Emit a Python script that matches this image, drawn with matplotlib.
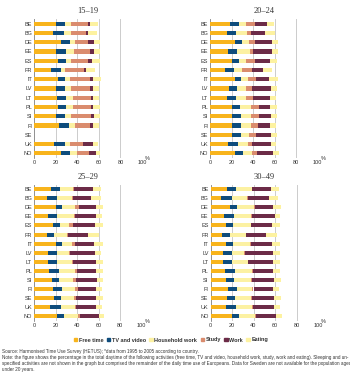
import matplotlib
matplotlib.use("Agg")
import matplotlib.pyplot as plt
import numpy as np

plt.rcParams["font.family"] = ["Liberation Sans", "DejaVu Sans"]

countries = ["BE", "BG", "DE", "EE", "ES", "FR", "IT", "LV", "LT", "PL", "SI", "FI", "SE", "UK", "NO"]
activities = ["Free time", "TV and video", "Household work", "Study", "Work", "Eating"]
colors = ["#F8B41C", "#0E4C7C", "#FCF1A2", "#DA8C6E", "#6C2B47", "#FDF2A0"]
panel_titles = ["15\u201319", "20\u201324", "25\u201329", "30\u201349"]

# values per country: free time, TV and video, household work, study, work, eating
age_15_19 = [
    [20.4, 8.6, 5.0, 16.0, 2.3, 7.1],
    [18.0, 10.0, 6.7, 13.0, 2.3, 8.5],
    [25.0, 8.0, 5.4, 11.6, 6.0, 5.3],
    [20.7, 9.0, 7.3, 14.4, 4.6, 5.0],
    [22.3, 7.4, 4.7, 15.6, 4.0, 7.3],
    [16.0, 8.8, 4.2, 17.0, 2.0, 8.3],
    [22.6, 6.4, 4.0, 18.4, 3.1, 7.1],
    [20.7, 8.3, 5.7, 16.7, 3.4, 5.2],
    [21.0, 8.7, 6.3, 17.0, 1.5, 5.5],
    [22.6, 7.1, 6.3, 17.0, 1.8, 5.9],
    [20.7, 7.8, 5.9, 18.6, 2.7, 5.0],
    [23.5, 8.5, 6.4, 13.3, 3.3, 4.8],
    [0, 0, 0, 0, 0, 0],
    [18.6, 10.4, 4.7, 11.5, 9.3, 4.3],
    [25.4, 8.3, 5.9, 10.9, 6.5, 4.3],
]
age_20_24 = [
    [18.3, 8.3, 7.1, 8.3, 11.0, 6.8],
    [15.8, 8.2, 10.7, 3.7, 12.4, 9.2],
    [23.0, 6.7, 6.5, 5.3, 16.1, 5.4],
    [16.4, 8.6, 12.5, 2.5, 17.6, 5.4],
    [20.0, 6.6, 6.8, 8.1, 13.9, 7.1],
    [14.2, 8.4, 6.8, 9.3, 10.5, 8.7],
    [23.5, 5.0, 6.5, 7.7, 12.3, 8.0],
    [17.6, 7.4, 8.7, 5.6, 17.4, 5.5],
    [15.5, 8.3, 9.9, 6.3, 15.7, 5.9],
    [20.4, 7.8, 10.2, 7.1, 10.5, 6.2],
    [20.7, 7.8, 9.3, 7.7, 10.8, 5.9],
    [20.4, 8.6, 9.4, 6.2, 11.1, 5.9],
    [20.7, 7.8, 7.7, 6.5, 13.6, 5.6],
    [16.7, 9.6, 9.0, 3.7, 17.3, 5.0],
    [23.2, 7.4, 8.4, 4.7, 14.8, 5.5],
]
age_25_29 = [
    [15.8, 8.2, 12.5, 1.0, 17.5, 7.0],
    [11.8, 9.2, 14.0, 1.0, 17.0, 9.0],
    [20.0, 5.7, 12.3, 3.5, 16.5, 6.0],
    [13.0, 8.7, 15.3, 0.8, 20.2, 5.0],
    [18.0, 6.0, 8.8, 3.2, 20.7, 7.1],
    [12.4, 6.6, 11.3, 1.7, 18.0, 10.0],
    [20.0, 5.7, 9.3, 3.0, 18.0, 7.8],
    [13.3, 7.7, 11.5, 0.9, 23.3, 5.8],
    [13.3, 8.4, 13.3, 1.0, 22.0, 6.0],
    [14.2, 8.8, 15.4, 1.2, 18.4, 6.0],
    [17.0, 6.5, 13.0, 2.8, 19.5, 5.2],
    [18.0, 8.3, 12.1, 2.5, 16.7, 5.2],
    [18.3, 6.7, 11.8, 2.2, 19.0, 6.0],
    [15.0, 10.0, 13.4, 0.6, 18.6, 5.2],
    [21.0, 7.0, 12.6, 2.1, 17.7, 4.9],
]
age_30_49 = [
    [15.0, 8.3, 14.9, 0.3, 17.4, 7.5],
    [9.6, 10.0, 13.9, 1.0, 20.2, 8.0],
    [18.0, 6.8, 15.9, 0.6, 17.1, 6.8],
    [12.7, 8.7, 16.2, 0.6, 21.8, 5.0],
    [14.6, 6.4, 16.3, 0.6, 18.9, 7.8],
    [10.9, 7.1, 14.6, 0.6, 18.3, 10.0],
    [14.6, 6.4, 15.6, 0.7, 19.5, 8.2],
    [11.8, 7.8, 11.8, 0.9, 25.5, 6.8],
    [11.2, 9.0, 14.3, 0.5, 23.0, 6.6],
    [13.4, 9.3, 16.1, 0.6, 19.0, 6.6],
    [14.0, 7.7, 16.2, 0.9, 20.2, 6.5],
    [16.1, 8.4, 14.3, 1.2, 18.4, 5.3],
    [15.8, 7.2, 14.9, 0.9, 20.2, 6.5],
    [14.6, 8.7, 15.2, 0.6, 19.6, 5.9],
    [19.9, 6.8, 14.6, 0.6, 18.7, 5.5],
]
panels = [age_15_19, age_20_24, age_25_29, age_30_49]

W, H = 350, 372
fig = plt.figure(figsize=(W / 100, H / 100), dpi=100)
fig.patch.set_facecolor("white")

rects_px = [(34, 142, 19, 158), (210, 317.5, 19, 158),
            (34, 141.7, 184.5, 321), (210.5, 318, 184.5, 321)]

text_col = "#333333"
for (x0, x1, y0, y1), data, title in zip(rects_px, panels, panel_titles):
    ax = fig.add_axes([x0 / W, 1 - y1 / H, (x1 - x0) / W, (y1 - y0) / H])
    arr = np.array(data)
    y = np.arange(len(countries))
    left = np.zeros(len(countries))
    for j in range(len(activities)):
        ax.barh(y, arr[:, j], left=left, height=0.45, color=colors[j], zorder=3, linewidth=0)
        left += arr[:, j]
    ax.set_xlim(0, 100)
    ax.set_ylim(len(countries) - 0.5, -0.5)
    ax.set_yticks(y)
    ax.set_yticklabels(countries, fontsize=4, color=text_col)
    ax.set_xticks([0, 20, 40, 60, 80, 100])
    ax.set_xticklabels(["0", "20", "40", "60", "80", "100"], fontsize=4, color=text_col)
    ax.tick_params(axis="both", length=0, pad=1.5)
    for s in ["top", "right", "bottom"]:
        ax.spines[s].set_visible(False)
    ax.spines["left"].set_color("#888888")
    ax.spines["left"].set_linewidth(0.6)
    ax.xaxis.grid(True, color="#cccccc", linewidth=0.7, zorder=0)
    ax.set_axisbelow(True)
    ax.set_title(title, fontsize=6, family="Liberation Serif", color=text_col, pad=4)
    ax.text(1.03, -0.005, "%", transform=ax.transAxes, fontsize=4, color=text_col,
            ha="left", va="center")

# legend
handles = [plt.Rectangle((0, 0), 1, 1, color=c) for c in colors]
leg = fig.legend(handles, activities, loc="center", bbox_to_anchor=(171 / W, 1 - 340 / H),
                 ncol=6, frameon=False, handlelength=0.6, handleheight=0.6,
                 handletextpad=0.3, columnspacing=0.6, prop={"weight": "bold", "size": 4.0})
for t in leg.get_texts():
    t.set_color(text_col)

notes = [
    "Source: Harmonised Time Use Survey (HETUS); *data from 1995 to 2005 according to country.",
    "Note: the figure shows the percentage in the total daytime of the following activities (free time, TV and video, household work, study, work and eating). Sleeping and un-",
    "specified activities are not shown in the graph but comprised the remainder of the daily time use of Europeans. Data for Sweden are not available for the population aged",
    "under 20 years.",
]
ys = [352, 358, 364, 370]
for t, yy in zip(notes, ys):
    fig.text(2 / W, 1 - yy / H, t, fontsize=3.3, color=text_col, ha="left", va="center")

fig.savefig("out.png", dpi=100)
